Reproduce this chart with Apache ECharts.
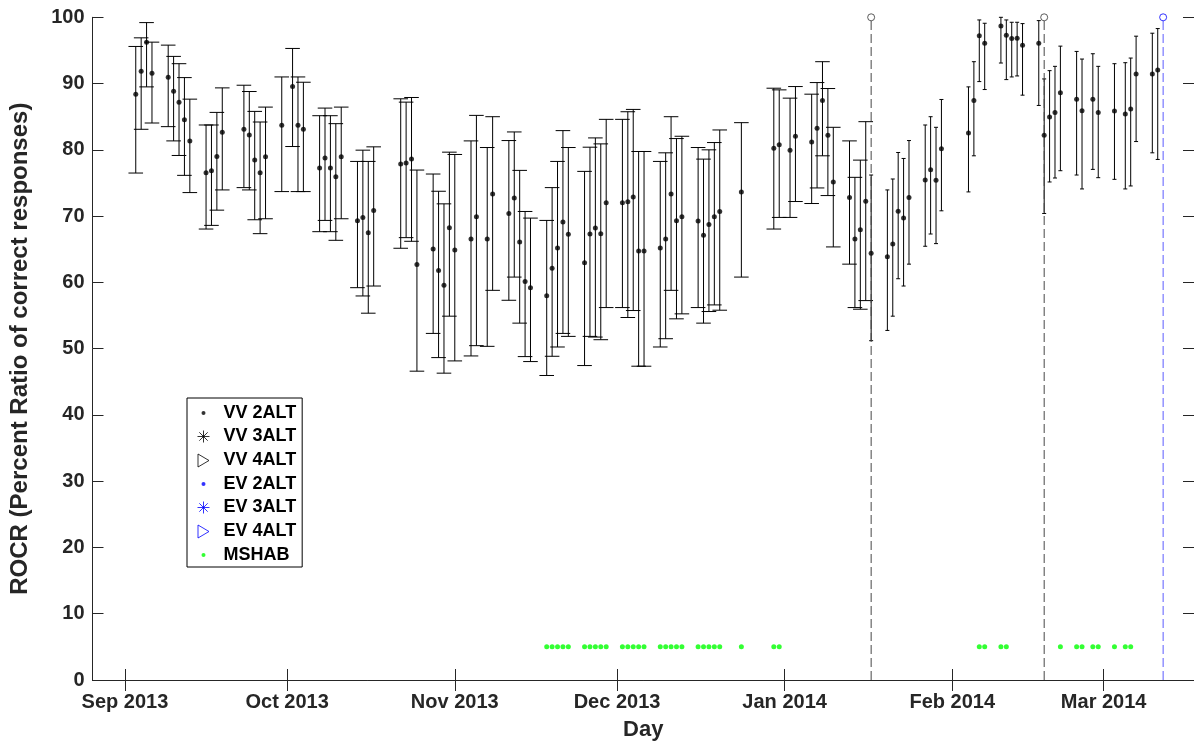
<!DOCTYPE html>
<html><head><meta charset="utf-8">
<script src="https://cdn.jsdelivr.net/npm/echarts@6/dist/echarts.min.js"></script>
<style>html,body{margin:0;padding:0;background:#fff}#c{width:1194px;height:746px}</style>
</head><body><div id="c"></div>
<script>
// ---- VV 2ALT, first block (Sep 2013 - Jan 16 2014) ----
const seg1Dates = ['2013-09-03','2013-09-04','2013-09-05','2013-09-06','2013-09-09','2013-09-10','2013-09-11','2013-09-12','2013-09-13',
 '2013-09-16','2013-09-17','2013-09-18','2013-09-19','2013-09-23','2013-09-24','2013-09-25','2013-09-26','2013-09-27',
 '2013-09-30','2013-10-02','2013-10-03','2013-10-04','2013-10-07','2013-10-08','2013-10-09','2013-10-10','2013-10-11',
 '2013-10-14','2013-10-15','2013-10-16','2013-10-17','2013-10-22','2013-10-23','2013-10-24','2013-10-25',
 '2013-10-28','2013-10-29','2013-10-30','2013-10-31','2013-11-01','2013-11-04','2013-11-05','2013-11-07','2013-11-08',
 '2013-11-11','2013-11-12','2013-11-13','2013-11-14','2013-11-15','2013-11-18','2013-11-19','2013-11-20','2013-11-21','2013-11-22',
 '2013-11-25','2013-11-26','2013-11-27','2013-11-28','2013-11-29','2013-12-02','2013-12-03','2013-12-04','2013-12-05','2013-12-06',
 '2013-12-09','2013-12-10','2013-12-11','2013-12-12','2013-12-13','2013-12-16','2013-12-17','2013-12-18','2013-12-19','2013-12-20',
 '2013-12-24','2013-12-30','2013-12-31','2014-01-02','2014-01-03','2014-01-06','2014-01-07','2014-01-08','2014-01-09','2014-01-10',
 '2014-01-13','2014-01-14','2014-01-15','2014-01-16'];
const seg1Val = [88.4,91.85,96.25,91.55,90.95,88.85,87.2,84.55,81.35,
 76.55,76.85,79.0,82.65,83.1,82.25,78.45,76.55,78.95,
 83.7,89.55,83.7,83.1,77.25,78.75,77.25,75.95,78.95,
 69.3,69.8,67.5,70.85,77.85,78.0,78.6,62.7,
 65.05,61.8,59.55,68.25,64.9,66.55,69.9,66.55,73.35,
 70.4,72.75,66.1,60.15,59.2,58.0,62.15,65.2,69.1,67.25,
 62.95,67.3,68.2,67.35,72.0,72.0,72.15,72.9,64.75,64.75,
 65.2,66.55,73.35,69.3,69.9,69.25,67.1,68.75,69.9,70.7,
 73.65,80.25,80.75,79.95,82.05,81.2,83.25,87.45,82.2,75.15,
 72.8,66.55,67.95,72.25];
const seg1Low = [76.5,83.1,89.5,84.05,83.5,81.35,79.15,76.15,73.55,
 68.05,68.6,70.9,73.95,74.3,73.95,69.45,67.35,69.6,
 73.7,80.5,73.7,73.7,67.65,69.35,67.65,66.35,69.6,
 59.2,57.95,55.35,59.45,65.15,66.75,66.2,46.6,
 52.3,48.65,46.3,54.9,48.15,48.9,50.45,50.35,58.8,
 57.3,60.8,53.85,48.8,48.05,45.95,48.85,50.25,52.3,51.85,
 47.45,51.85,51.75,51.35,56.2,56.2,54.7,55.75,47.35,47.35,
 50.25,51.5,58.8,54.5,55.25,56.2,53.85,55.6,56.6,55.8,
 60.8,68.05,69.8,69.8,72.2,71.9,74.25,79.1,73.1,65.35,
 62.75,56.2,55.95,57.25];
const seg1High = [95.6,96.9,99.2,96.25,95.8,94.1,93.0,90.9,87.65,
 83.75,83.75,85.65,89.35,89.75,88.8,85.8,84.2,86.45,
 91.0,95.3,91.0,90.2,85.15,86.3,85.15,83.95,86.45,
 78.25,79.95,78.25,80.45,87.7,87.2,87.9,76.95,
 76.35,73.75,71.85,79.65,79.3,81.35,85.2,80.35,85.0,
 81.4,82.7,76.9,70.7,69.7,69.35,74.3,78.25,82.9,80.35,
 76.75,80.4,81.8,80.9,84.6,84.6,85.75,86.1,79.75,79.75,
 78.25,79.55,85.0,81.7,82.05,80.35,78.6,80.0,81.1,83.0,
 84.1,89.3,89.05,87.8,89.55,88.4,90.15,93.3,89.25,83.4,
 81.35,75.85,78.45,84.25];

// ---- VV 2ALT, second block (Jan 17 2014 - Mar 2014) ----
const seg2Dates = ['2014-01-17','2014-01-20','2014-01-21','2014-01-22','2014-01-23','2014-01-24','2014-01-27','2014-01-28','2014-01-29','2014-01-30',
 '2014-02-04','2014-02-05','2014-02-06','2014-02-07','2014-02-10','2014-02-11','2014-02-12','2014-02-13','2014-02-14',
 '2014-02-17','2014-02-18','2014-02-19','2014-02-20','2014-02-21','2014-02-24','2014-02-25','2014-02-27','2014-02-28',
 '2014-03-03','2014-03-05','2014-03-06','2014-03-07','2014-03-10','2014-03-11'];
const seg2Val = [64.4,63.85,65.8,70.75,69.7,72.8,75.45,77.0,75.4,80.15,
 82.55,87.45,97.2,96.1,98.7,97.3,96.8,96.85,95.8,
 96.1,82.2,84.95,85.65,88.6,87.65,85.9,87.65,85.65,
 85.85,85.4,86.15,91.45,91.45,92.05];
const seg2Low = [51.2,52.75,54.9,60.55,59.45,62.75,65.45,67.3,65.85,70.8,
 73.65,79.1,90.3,89.1,93.1,90.6,91.0,91.15,88.25,
 86.7,70.4,75.15,75.75,76.85,76.2,74.1,77.05,75.8,
 75.55,74.1,74.55,81.25,79.55,78.55];
const seg2High = [76.2,73.95,75.6,79.6,78.7,81.4,83.75,85.0,83.4,87.6,
 89.5,93.3,99.6,99.1,100,99.6,99.25,99.25,99.05,
 99.5,90.7,91.95,92.6,95.65,94.85,93.7,94.5,92.6,
 93.0,93.15,93.85,97.15,97.6,98.3];

// ---- MSHAB ----
const mshabDates = ['2013-11-18','2013-11-19','2013-11-20','2013-11-21','2013-11-22','2013-11-25','2013-11-26','2013-11-27','2013-11-28','2013-11-29',
 '2013-12-02','2013-12-03','2013-12-04','2013-12-05','2013-12-06','2013-12-09','2013-12-10','2013-12-11','2013-12-12','2013-12-13',
 '2013-12-16','2013-12-17','2013-12-18','2013-12-19','2013-12-20','2013-12-24','2013-12-30','2013-12-31',
 '2014-02-06','2014-02-07','2014-02-10','2014-02-11','2014-02-21','2014-02-24','2014-02-25','2014-02-27','2014-02-28',
 '2014-03-03','2014-03-05','2014-03-06'];
const mshabValue = 5;

// ---- event markers ----
const vvEventDates = ['2014-01-17','2014-02-18'];
const evEventDates = ['2014-03-12'];
const eventValue = 100;

// ---- axes ----
const monthTicks = ['2013-09-01','2013-10-01','2013-11-01','2013-12-01','2014-01-01','2014-02-01','2014-03-01'];
const monthLabels = ['Sep 2013','Oct 2013','Nov 2013','Dec 2013','Jan 2014','Feb 2014','Mar 2014'];
const yTicks = [0,10,20,30,40,50,60,70,80,90,100];

function ts(s){const p=s.split('-').map(Number);return new Date(p[0],p[1]-1,p[2]).getTime();}
const xMin = new Date(2013,7,26).getTime();
const xMax = new Date(2014,2,17,17).getTime();
const tickTs = monthTicks.map(ts);

const FONT = 'Liberation Sans';
const AX = '#262626';

function errRender(capHalf){
  return function(params, api){
    const x=api.value(0), lo=api.value(1), hi=api.value(2);
    const a=api.coord([x,lo]), b=api.coord([x,hi]);
    const st={stroke:'#000',lineWidth:1,fill:null};
    return {type:'group',children:[
      {type:'line',shape:{x1:a[0],y1:a[1],x2:b[0],y2:b[1]},style:st},
      {type:'line',shape:{x1:a[0]-capHalf,y1:a[1],x2:a[0]+capHalf,y2:a[1]},style:st},
      {type:'line',shape:{x1:b[0]-capHalf,y1:b[1],x2:b[0]+capHalf,y2:b[1]},style:st}
    ]};
  };
}
function vlineRender(color){
  return function(params, api){
    const x=api.value(0);
    const a=api.coord([x,0]), b=api.coord([x,100]);
    return {type:'line',shape:{x1:a[0],y1:a[1],x2:b[0],y2:b[1]},style:{stroke:color,lineWidth:1,lineDash:[9,4]}};
  };
}

const err1 = seg1Dates.map((d,i)=>[ts(d),seg1Low[i],seg1High[i]]);
const err2 = seg2Dates.map((d,i)=>[ts(d),seg2Low[i],seg2High[i]]);
const dots = seg1Dates.map((d,i)=>[ts(d),seg1Val[i]]).concat(seg2Dates.map((d,i)=>[ts(d),seg2Val[i]]));
const mshab = mshabDates.map(d=>[ts(d),mshabValue]);
const vvEv = vvEventDates.map(d=>[ts(d),eventValue]);
const evEv = evEventDates.map(d=>[ts(d),eventValue]);

const dotIcon = 'path://M0 0M14 14M5 7A2 2 0 1 1 9 7A2 2 0 1 1 5 7Z';
const starIcon = 'path://M0 0M14 14M1 7L13 7M7 1L7 13M2.8 2.8L11.2 11.2M11.2 2.8L2.8 11.2';
const triIcon = 'path://M0 0M14 14M1.5 0.5L12.5 7L1.5 13.5Z';

const xAxisBase = {type:'value',min:xMin,max:xMax,splitLine:{show:false},
  axisLine:{show:true,lineStyle:{color:AX,width:1}},
  axisTick:{show:true,inside:true,length:11,customValues:tickTs,lineStyle:{color:AX}}};
const yAxisBase = {type:'value',min:0,max:100,interval:10,splitLine:{show:false},
  axisLine:{show:true,lineStyle:{color:AX,width:1}},
  axisTick:{show:true,inside:true,length:11,lineStyle:{color:AX}}};

const chart = echarts.init(document.getElementById('c'),null,{renderer:'canvas'});
chart.setOption({
  animation:false,
  backgroundColor:'#fff',
  grid:{left:92.5,top:17.3,width:1102.6,height:666.7,containLabel:false},
  xAxis:[
    Object.assign({},xAxisBase,{position:'bottom',name:'Day',nameLocation:'middle',nameGap:39,
      nameTextStyle:{fontFamily:FONT,fontWeight:'bold',fontSize:22,color:AX},
      axisLabel:{show:true,customValues:tickTs,margin:12,fontFamily:FONT,fontWeight:'bold',fontSize:20,color:AX,
        formatter:function(v){const i=tickTs.indexOf(v);return i>=0?monthLabels[i]:'';}}}),
    Object.assign({},xAxisBase,{position:'top',axisLabel:{show:false}})
  ],
  yAxis:[
    Object.assign({},yAxisBase,{position:'left',name:'ROCR (Percent Ratio of correct responses)',nameLocation:'middle',nameGap:60,
      nameTextStyle:{fontFamily:FONT,fontWeight:'bold',fontSize:24,color:AX},
      axisLabel:{show:true,margin:8,fontFamily:FONT,fontWeight:'bold',fontSize:20,color:AX,
        formatter:function(v){return yTicks.indexOf(v)>=0?String(v):'';}}}),
    Object.assign({},yAxisBase,{position:'right',axisLabel:{show:false}})
  ],
  legend:{
    orient:'vertical',left:187,top:398,padding:[6,6,3,7],itemGap:5,itemWidth:26,itemHeight:14,
    borderColor:'#000',borderWidth:1,backgroundColor:'#fff',selectedMode:false,
    textStyle:{fontFamily:FONT,fontWeight:'bold',fontSize:18,color:'#000',padding:[0,0,0,2]},
    data:[
      {name:'VV 2ALT',icon:dotIcon,itemStyle:{color:'#000',borderWidth:0}},
      {name:'VV 3ALT',icon:starIcon,itemStyle:{color:'none',borderColor:'#000',borderWidth:1}},
      {name:'VV 4ALT',icon:triIcon,itemStyle:{color:'none',borderColor:'#000',borderWidth:1}},
      {name:'EV 2ALT',icon:dotIcon,itemStyle:{color:'#0000ff',borderWidth:0}},
      {name:'EV 3ALT',icon:starIcon,itemStyle:{color:'none',borderColor:'#0000ff',borderWidth:1}},
      {name:'EV 4ALT',icon:triIcon,itemStyle:{color:'none',borderColor:'#0000ff',borderWidth:1}},
      {name:'MSHAB',icon:dotIcon,itemStyle:{color:'#00ff00',borderWidth:0}}
    ]
  },
  series:[
    {type:'custom',name:'err1',renderItem:errRender(7.3),data:err1,encode:{x:0,y:[1,2]},z:2,silent:true},
    {type:'custom',name:'err2',renderItem:errRender(2),data:err2,encode:{x:0,y:[1,2]},z:2,silent:true},
    {type:'custom',name:'vvEvLine',renderItem:vlineRender('#474747'),data:vvEv,encode:{x:0,y:1},z:3,silent:true},
    {type:'custom',name:'evEvLine',renderItem:vlineRender('#5c5cff'),data:evEv,encode:{x:0,y:1},z:3,silent:true},
    {type:'scatter',name:'VV 2ALT',data:dots,symbol:'circle',symbolSize:5,itemStyle:{color:'#000'},z:4},
    {type:'scatter',name:'VV 3ALT',data:[],itemStyle:{color:'#000'}},
    {type:'scatter',name:'VV 4ALT',data:[],itemStyle:{color:'#000'}},
    {type:'scatter',name:'EV 2ALT',data:[],itemStyle:{color:'#0000ff'}},
    {type:'scatter',name:'EV 3ALT',data:[],itemStyle:{color:'#0000ff'}},
    {type:'scatter',name:'EV 4ALT',data:[],itemStyle:{color:'#0000ff'}},
    {type:'scatter',name:'MSHAB',data:mshab,symbol:'circle',symbolSize:5,itemStyle:{color:'#00ff00'},z:4},
    {type:'scatter',name:'vvEvents',data:vvEv,symbol:'circle',symbolSize:7,clip:false,
      itemStyle:{color:'#fff',borderColor:'#333',borderWidth:1},z:5},
    {type:'scatter',name:'evEvents',data:evEv,symbol:'circle',symbolSize:7,clip:false,
      itemStyle:{color:'#fff',borderColor:'#0000ff',borderWidth:1},z:5}
  ]
});
</script></body></html>
